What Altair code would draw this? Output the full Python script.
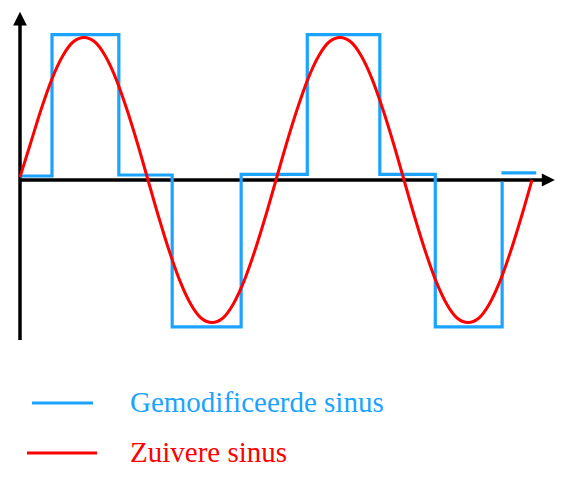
import altair as alt
import pandas as pd

# ---- data (x in degrees, y in amplitude units) ----
red_x = list(range(0, 721, 15))
red_y = [0.02, 0.26, 0.50, 0.71, 0.87, 0.97, 1.00, 0.97, 0.87, 0.71, 0.50, 0.26,
         0.00, -0.26, -0.50, -0.71, -0.87, -0.97, -1.00, -0.97, -0.87, -0.71, -0.50, -0.26,
         0.00, 0.26, 0.50, 0.71, 0.87, 0.97, 1.00, 0.97, 0.87, 0.71, 0.50, 0.26,
         0.00, -0.26, -0.50, -0.71, -0.87, -0.97, -1.00, -0.97, -0.87, -0.71, -0.50, -0.26,
         0.00]

blue_x = [0, 45, 45, 139, 139, 214, 214, 311, 311, 404, 404, 506, 506, 584, 584, 678, 678,
          677, 726]
blue_y = [0.028, 0.028, 1.02, 1.02, 0.035, 0.035, -1.03, -1.03, 0.04, 0.04, 1.02, 1.02,
          0.04, 0.04, -1.03, -1.03, -0.01,
          0.05, 0.05]
blue_seg = [0] * 17 + [1] * 2

series_names = ["Gemodificeerde sinus", "Zuivere sinus"]
series_colors = ["#1ca3ff", "#ff0000"]

# axes (arrows) in data units
v_axis_x = [0, 0]
v_axis_y = [-1.123, 1.10]
h_axis_x = [0, 738]
h_axis_y = [0, 0]

red_df = pd.DataFrame({"x": red_x, "y": red_y, "i": range(len(red_x))})
blue_df = pd.DataFrame({"x": blue_x, "y": blue_y, "seg": blue_seg, "i": range(len(blue_x))})

xs = alt.Scale(domain=[-16.875, 753.75], nice=False, zero=False)
ys = alt.Scale(domain=[-2.028, 1.207], nice=False, zero=False)

X = lambda f="x": alt.X(f"{f}:Q", scale=xs, axis=None)
Y = lambda f="y": alt.Y(f"{f}:Q", scale=ys, axis=None)

vax = alt.Chart(pd.DataFrame({"x": v_axis_x[:1], "y": [v_axis_y[0]], "y2": [v_axis_y[1]]})).mark_rule(
    color="black", strokeWidth=3.5).encode(x=X(), y=Y(), y2="y2:Q")
hax = alt.Chart(pd.DataFrame({"x": [h_axis_x[0]], "x2": [h_axis_x[1]], "y": h_axis_y[:1]})).mark_rule(
    color="black", strokeWidth=3.5).encode(x=X(), x2="x2:Q", y=Y())

arrow_up = alt.Chart(pd.DataFrame({"x": [0], "y": [1.133]})).mark_point(
    shape="M-1,1L0,-1L1,1Z", filled=True, color="black", opacity=1, size=190).encode(x=X(), y=Y())
arrow_right = alt.Chart(pd.DataFrame({"x": [743], "y": [0]})).mark_point(
    shape="M-1,-1L1,0L-1,1Z", filled=True, color="black", opacity=1, size=170).encode(x=X(), y=Y())

blue = alt.Chart(blue_df).mark_line(color=series_colors[0], strokeWidth=3.2,
                                    strokeJoin="miter", strokeCap="butt").encode(
    x=X(), y=Y(), detail="seg:N", order="i:Q")
red = alt.Chart(red_df).mark_line(color=series_colors[1], strokeWidth=3,
                                  interpolate="monotone").encode(
    x=X(), y=Y(), order="i:Q")

one = alt.Data(values=[{"a": 1}])
legend_layers = []
leg_line = [(24, 85, 395), (19, 89, 445)]
leg_text_y = [404, 454]
for name, col, (lx1, lx2, ly), ty in zip(series_names, series_colors, leg_line, leg_text_y):
    legend_layers.append(
        alt.Chart(one).mark_rule(color=col, strokeWidth=3).encode(
            x=alt.value(lx1), x2=alt.value(lx2), y=alt.value(ly)))
    legend_layers.append(
        alt.Chart(one).mark_text(color=col, font="Liberation Serif", fontSize=29,
                                 align="left", baseline="alphabetic").encode(
            x=alt.value(122), y=alt.value(ty), text=alt.value(name)))

chart = alt.layer(vax, hax, arrow_up, arrow_right, blue, red, *legend_layers).properties(
    width=548, height=461, padding=0, autosize=alt.AutoSizeParams(type="none")
).configure_view(stroke=None)

chart.save("out.html", embed_options={"renderer": "svg", "actions": False})
